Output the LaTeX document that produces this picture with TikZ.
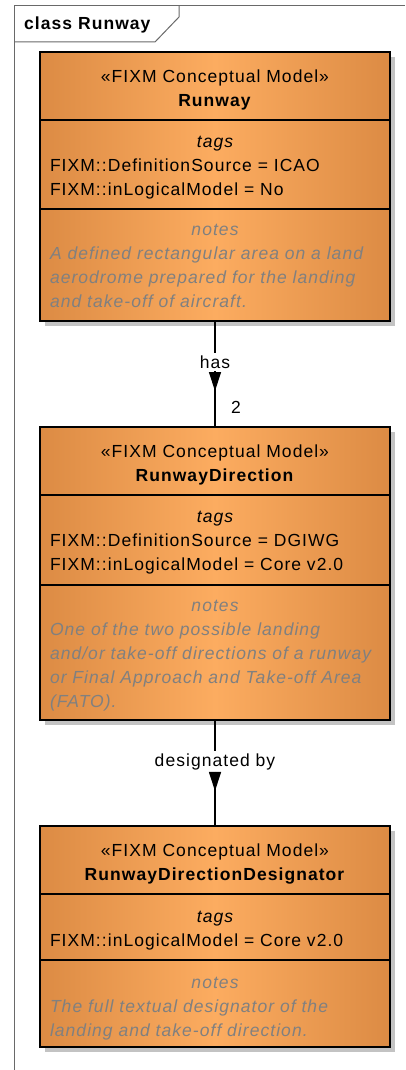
\documentclass[tikz,border=0pt]{standalone}
\usepackage{fontspec}
\setmainfont{Liberation Sans}[LetterSpace=6]
\usepackage{tikz}
\usetikzlibrary{positioning,arrows.meta}
\definecolor{ClassEdge}{RGB}{220,139,68}
\definecolor{ClassMid}{RGB}{252,172,96}
\definecolor{NoteGray}{RGB}{128,128,128}
\definecolor{ShadowGray}{RGB}{195,195,195}
\definecolor{FrameGray}{RGB}{105,105,105}
\tikzset{
  umltext/.style={font=\fontsize{17.5}{24}\selectfont},
  classpart/.style={umltext,draw,line width=1.2pt,inner xsep=10pt,inner ysep=0pt,
    outer sep=0pt,text width=330pt,align=left,text height=13pt,
    left color=ClassEdge,right color=ClassEdge,middle color=ClassMid},
  classhead/.style={classpart,align=center,minimum height=68pt,text depth=20pt},
  notepart/.style={classpart,text=NoteGray,font=\fontsize{17.5}{24}\selectfont\itshape},
  assoclabel/.style={umltext,fill=white,inner sep=3pt},
  navtip/.style={line width=1.2pt,-{Triangle[length=19pt,width=12pt]}}
}
\begin{document}
\begin{tikzpicture}[line cap=butt,line join=miter,x=1pt,y=-1pt]
  \useasboundingbox (0,0) rectangle (405,1070);
  % frame and tab
  \draw [FrameGray,line width=1pt] (14,1070) -- (14,6) -- (405,6);
  \draw [FrameGray,line width=1pt] (14,42) -- (155,42) -- (179,17) -- (179,6);
  \node [umltext,anchor=west,inner sep=0pt] (frametitle) at (24,25) {\textbf{class Runway}};
  % Runway
  \fill [ShadowGray] (45,57) rectangle (395,326);
  \node [classhead,anchor=north] (rwyhead) at (215,52)
    {«FIXM Conceptual Model»\\\textbf{Runway}};
  \node [classpart,minimum height=89pt,text depth=47pt,below=0pt of rwyhead] (rwytags)
    {{\centering\itshape tags\par}FIXM::DefinitionSource = ICAO\\FIXM::inLogicalModel = No};
  \node [notepart,minimum height=112pt,text depth=72pt,below=0pt of rwytags] (rwynotes)
    {{\centering notes\par}A defined rectangular area on a land\\aerodrome prepared for the landing\\and take-off of aircraft.};
  % RunwayDirection
  \fill [ShadowGray] (45,432) rectangle (395,725);
  \node [classhead,anchor=north] (dirhead) at (215,427)
    {«FIXM Conceptual Model»\\\textbf{RunwayDirection}};
  \node [classpart,minimum height=90pt,text depth=48pt,below=0pt of dirhead] (dirtags)
    {{\centering\itshape tags\par}FIXM::DefinitionSource = DGIWG\\FIXM::inLogicalModel = Core v2.0};
  \node [notepart,minimum height=135pt,text depth=95pt,below=0pt of dirtags] (dirnotes)
    {{\centering notes\par}One of the two possible landing\\and/or take-off directions of a runway\\or Final Approach and Take-off Area\\(FATO).};
  % RunwayDirectionDesignator
  \fill [ShadowGray] (45,831) rectangle (395,1052);
  \node [classhead,anchor=north] (dsghead) at (215,826)
    {«FIXM Conceptual Model»\\\textbf{RunwayDirectionDesignator}};
  \node [classpart,minimum height=66pt,text depth=22pt,below=0pt of dsghead] (dsgtags)
    {{\centering\itshape tags\par}FIXM::inLogicalModel = Core v2.0};
  \node [notepart,minimum height=87pt,text depth=44pt,below=0pt of dsgtags] (dsgnotes)
    {{\centering notes\par}The full textual designator of the\\landing and take-off direction.};
  % associations
  \draw [line width=1.2pt] (rwynotes.south) -- (dirhead.north)
    node [assoclabel,pos=0.387] (haslbl) {has};
  \draw [navtip] ([yshift=-10pt]haslbl.center) -- ([yshift=-29pt]haslbl.center);
  \node [umltext,inner sep=0pt] (dirmult) at (236,407) {2};
  \draw [line width=1.2pt] (dirnotes.south) -- (dsghead.north)
    node [assoclabel,pos=0.396] (dsglbl) {designated by};
  \draw [navtip] ([yshift=-10pt]dsglbl.center) -- ([yshift=-29pt]dsglbl.center);
\end{tikzpicture}
\end{document}
